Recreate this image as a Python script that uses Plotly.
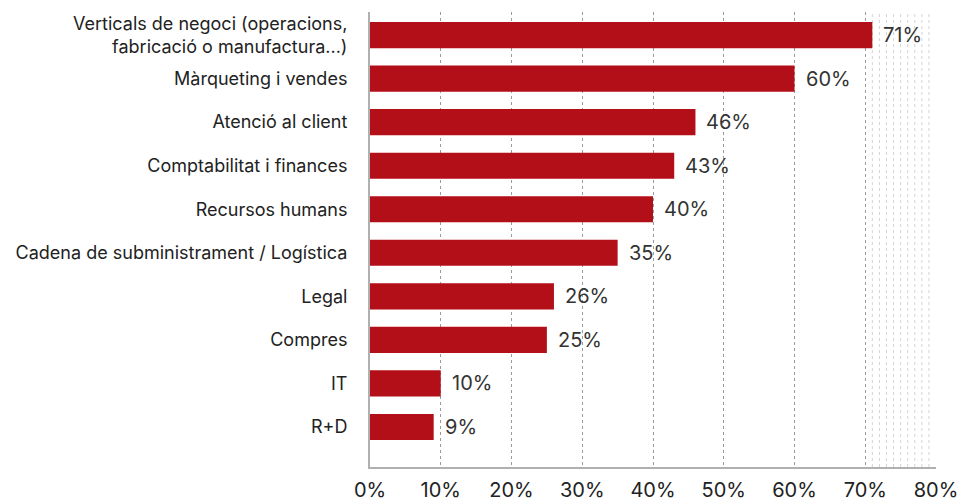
import plotly.graph_objects as go

categories = [
    "Verticals de negoci (operacions,<br>fabricació o manufactura...)",
    "Màrqueting i vendes",
    "Atenció al client",
    "Comptabilitat i finances",
    "Recursos humans",
    "Cadena de subministrament / Logística",
    "Legal",
    "Compres",
    "IT",
    "R+D",
]
values = [71, 60, 46, 43, 40, 35, 26, 25, 10, 9]
tick_vals = [0, 10, 20, 30, 40, 50, 60, 70, 80]
tick_text = ["0%", "10%", "20%", "30%", "40%", "50%", "60%", "70%", "80%"]
minor_vals = [71, 72, 73, 74, 75, 76, 77, 78, 79]

FONT = "Inter, Roboto, sans-serif"
ypos = list(range(len(categories)))

fig = go.Figure(go.Bar(
    x=values,
    y=ypos,
    orientation="h",
    marker=dict(color="#b30f18", line=dict(width=0)),
    width=0.6,
    hoverinfo="x+y",
))

for v, yp in zip(values, ypos):
    fig.add_annotation(x=v, y=yp, xref="x", yref="y", text=f"{v}%",
                       showarrow=False, xanchor="left", yanchor="middle",
                       xshift=9, font=dict(size=20, color="#333333", family=FONT))

for mv in minor_vals:
    fig.add_shape(type="line", xref="x", yref="paper", x0=mv, x1=mv, y0=0, y1=1,
                  line=dict(color="#d4d4d4", width=1, dash="dot"), layer="below")

fig.update_layout(
    width=962, height=496,
    margin=dict(l=362, r=34, t=4, b=37, autoexpand=False),
    plot_bgcolor="white", paper_bgcolor="white",
    showlegend=False,
    font=dict(family=FONT, color="#222222"),
    xaxis=dict(
        range=[0, 80], tickvals=tick_vals, ticktext=tick_text,
        showgrid=True, gridcolor="#9a9a9a", griddash="dot", gridwidth=1,
        showline=True, linecolor="#b0b0b0", linewidth=2,
        zeroline=False, ticks="", tickfont=dict(size=20, color="#222222"),
        ticklabelstandoff=4, automargin=False,
    ),
    yaxis=dict(
        range=[9.92, -0.53], tickvals=ypos, ticktext=categories,
        showgrid=False, showline=True, linecolor="#b0b0b0", linewidth=2,
        zeroline=False, ticks="", tickfont=dict(size=18, color="#222222"),
        ticklabelstandoff=17, automargin=False,
    ),
)

fig.write_html("out.html")
